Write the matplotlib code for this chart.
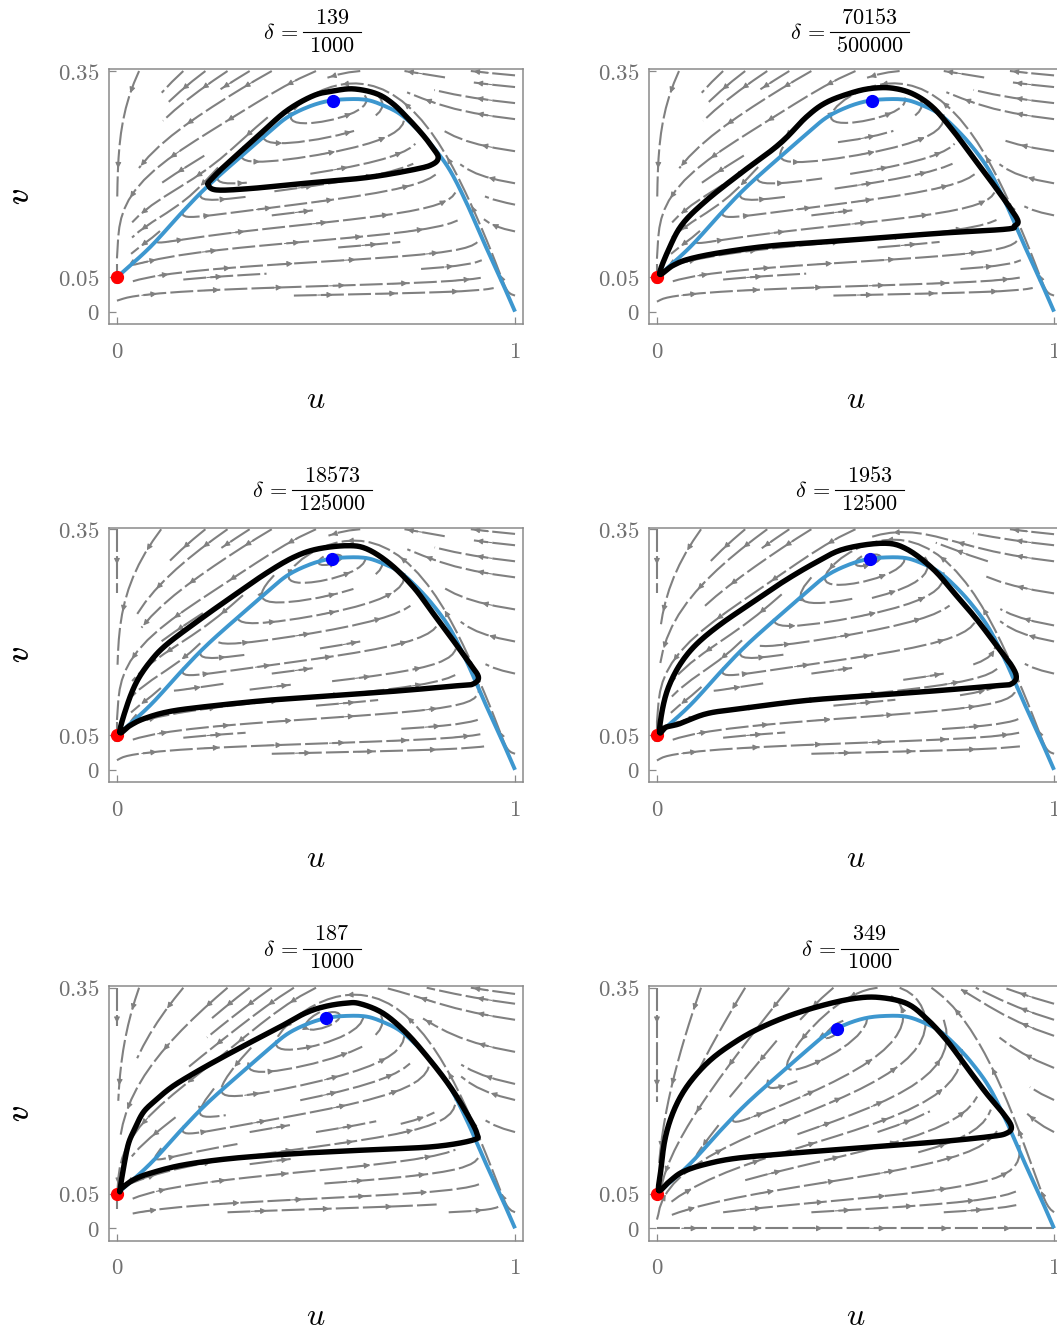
import numpy as np
import matplotlib
matplotlib.use("Agg")
import matplotlib.pyplot as plt
from matplotlib.collections import LineCollection
from matplotlib.patches import FancyArrowPatch
from matplotlib.lines import Line2D

plt.rcParams['mathtext.fontset'] = 'cm'
plt.rcParams['font.family'] = ['DejaVu Serif']

# ---------------- data ----------------
delta_num = [139, 70153, 18573, 1953, 187, 349]
delta_den = [1000, 500000, 125000, 12500, 1000, 1000]

# prey nullcline (blue curve)
nullcline_u = [0.0, 0.083, 0.158, 0.225, 0.309, 0.376, 0.426, 0.477, 0.527, 0.577,
               0.627, 0.669, 0.711, 0.753, 0.795, 0.837, 0.879, 0.920, 0.962, 1.0]
nullcline_v = [0.05, 0.0936, 0.141, 0.181, 0.2245, 0.258, 0.282, 0.297, 0.306, 0.309,
               0.308, 0.300, 0.2875, 0.266, 0.239, 0.205, 0.157, 0.103, 0.05, 0.0]

# boundary equilibrium (red) and interior equilibrium u-coordinate (blue) per panel
boundary_eq = (0.0, 0.05)
interior_eq_u = [0.542, 0.542, 0.539, 0.536, 0.525, 0.454]

# panels whose stream plot shows the stream lying on the axis v = 0
axis_stream_shown = [False, False, False, False, False, True]

# limit cycles (black)
cycle1_u = [0.229, 0.250, 0.334, 0.460, 0.627, 0.753, 0.795, 0.807, 0.795, 0.770, 0.736,
            0.694, 0.652, 0.594, 0.544, 0.493, 0.426, 0.359, 0.309, 0.267, 0.238]
cycle1_v = [0.185, 0.177, 0.179, 0.186, 0.195, 0.2075, 0.215, 0.2245, 0.237, 0.256, 0.278,
            0.302, 0.317, 0.324, 0.321, 0.314, 0.292, 0.258, 0.232, 0.210, 0.193]

cycle2_u = [0.007, 0.032, 0.065, 0.124, 0.208, 0.309, 0.376, 0.427, 0.494, 0.544, 0.594,
            0.645, 0.695, 0.746, 0.796, 0.846, 0.888, 0.909, 0.901, 0.880, 0.712, 0.460,
            0.292, 0.166, 0.082, 0.040]
cycle2_v = [0.055, 0.0936, 0.128, 0.1615, 0.200, 0.244, 0.283, 0.3045, 0.319, 0.325, 0.325,
            0.3166, 0.297, 0.263, 0.2245, 0.186, 0.152, 0.132, 0.125, 0.120, 0.114, 0.103,
            0.096, 0.0864, 0.0767, 0.067]

cycle3_u = [0.0075, 0.024, 0.049, 0.083, 0.125, 0.209, 0.292, 0.376, 0.443, 0.502, 0.577,
            0.627, 0.686, 0.745, 0.795, 0.845, 0.887, 0.908, 0.895, 0.862, 0.711, 0.5435,
            0.376, 0.2085, 0.125, 0.066, 0.033]
cycle3_v = [0.0548, 0.0914, 0.1275, 0.157, 0.1824, 0.219, 0.253, 0.2864, 0.309, 0.321, 0.326,
            0.3215, 0.2996, 0.2657, 0.227, 0.188, 0.154, 0.135, 0.125, 0.1227, 0.115, 0.108,
            0.101, 0.091, 0.084, 0.074, 0.0645]

cycle4_u = [0.0067, 0.015, 0.031, 0.06, 0.10, 0.16, 0.24, 0.32, 0.40, 0.47, 0.569,
            0.628, 0.695, 0.754, 0.804, 0.855, 0.8925, 0.905, 0.8925, 0.863, 0.712, 0.544,
            0.376, 0.208, 0.124, 0.057, 0.0235]
cycle4_v = [0.0548, 0.0914, 0.123, 0.155, 0.183, 0.2117, 0.2433, 0.2744, 0.3016, 0.321,
            0.3296, 0.3214, 0.2923, 0.2536, 0.2197, 0.181, 0.152, 0.1348, 0.125, 0.1227,
            0.1154, 0.1082, 0.1009, 0.0888, 0.0815, 0.067, 0.0621]

cycle5_u = [0.0075, 0.0159, 0.0285, 0.0452, 0.066, 0.0955, 0.137, 0.1876, 0.246, 0.322,
            0.405, 0.472, 0.5226, 0.575, 0.6106, 0.669, 0.728, 0.786, 0.837, 0.8786, 0.904,
            0.895, 0.795, 0.627, 0.460, 0.292, 0.1667, 0.083, 0.041, 0.0117]
cycle5_v = [0.0548, 0.086, 0.1224, 0.1453, 0.1686, 0.1855, 0.2053, 0.2236, 0.2428, 0.2665,
            0.2915, 0.3128, 0.3227, 0.3275, 0.3268, 0.3127, 0.2836, 0.2449, 0.2061, 0.1673,
            0.1382, 0.1285, 0.1188, 0.114, 0.1091, 0.1019, 0.0922, 0.080, 0.0704, 0.0582]

cycle6_u = [0.005, 0.0093, 0.0194, 0.0362, 0.0615, 0.095, 0.137, 0.1874, 0.246, 0.3217,
            0.4055, 0.4897, 0.5567, 0.628, 0.678, 0.729, 0.779, 0.8296, 0.8715, 0.8925,
            0.880, 0.838, 0.712, 0.544, 0.376, 0.208, 0.124, 0.0655, 0.032]
cycle6_v = [0.055, 0.0825, 0.127, 0.162, 0.1937, 0.221, 0.246, 0.2675, 0.2876, 0.3068,
            0.3225, 0.3337, 0.336, 0.3273, 0.3055, 0.274, 0.2352, 0.1964, 0.1673, 0.148,
            0.1382, 0.1334, 0.126, 0.1185, 0.111, 0.1025, 0.0935, 0.0823, 0.0685]

cycles_u = [cycle1_u, cycle2_u, cycle3_u, cycle4_u, cycle5_u, cycle6_u]
cycles_v = [cycle1_v, cycle2_v, cycle3_v, cycle4_v, cycle5_v, cycle6_v]

x_ticks = [0, 1]
x_ticklabels = ['$0$', '$1$']
y_ticks = [0, 0.05, 0.35]
y_ticklabels = ['$0$', '$0.05$', '$0.35$']

# ---------------- styling ----------------
W, Hpx = 1057, 1332
stream_color = '#808080'
frame_color = '#8a8a8a'
tick_label_color = '#707070'
blue_line = '#3d97cf'

lefts_px = [109, 649]
widths_px = [414, 413]
tops_px = [69.3, 527.5, 986.0]
height_px = 254.7

fig = plt.figure(figsize=(W / 100, Hpx / 100), dpi=100)
renderer = fig.canvas.get_renderer()

H_coef = np.polyfit(nullcline_u, nullcline_v, 7)
grid_u = np.linspace(0, 1, 161)
grid_v = np.linspace(0, 0.35, 161)
GU, GV = np.meshgrid(grid_u, grid_v)
a_half = 0.05


def vector_field(ustar, delta):
    Hc = np.polyval(H_coef, GU)
    vstar = np.interp(ustar, nullcline_u, nullcline_v)
    g = boundary_eq[1] + (vstar - boundary_eq[1]) / ustar * GU
    du = GU / (GU + a_half) * (Hc - GV)
    dv = delta * GV * (1 - GV / g)
    return du, dv


def catmull_rom(xs, ys, closed, n=12):
    P = np.column_stack([xs, ys]).astype(float)
    if closed:
        P = np.vstack([P[-1], P, P[0], P[1]])
    else:
        P = np.vstack([2 * P[0] - P[1], P, 2 * P[-1] - P[-2]])
    out = []
    t = np.linspace(0, 1, n, endpoint=False)[:, None]
    for k in range(1, len(P) - 2):
        p0, p1, p2, p3 = P[k - 1], P[k], P[k + 1], P[k + 2]
        seg = 0.5 * ((2 * p1) + (-p0 + p2) * t + (2 * p0 - 5 * p1 + 4 * p2 - p3) * t ** 2
                     + (-p0 + 3 * p1 - 3 * p2 + p3) * t ** 3)
        out.append(seg)
    out.append(P[len(P) - 2][None, :])
    out = np.vstack(out)
    return out[:, 0], out[:, 1]


def to_paths(segs):
    paths, cur = [], None
    for s in segs:
        s = np.asarray(s)
        if len(s) > 2:
            if cur is not None:
                paths.append(np.array(cur))
                cur = None
            paths.append(s)
            continue
        if cur is not None and np.allclose(cur[-1], s[0]):
            cur.append(s[1])
        else:
            if cur is not None:
                paths.append(np.array(cur))
            cur = [s[0], s[1]]
    if cur is not None:
        paths.append(np.array(cur))
    return paths


for i in range(6):
    row, col = divmod(i, 2)
    l = lefts_px[col] / W
    w = widths_px[col] / W
    b = 1 - (tops_px[row] + height_px) / Hpx
    h = height_px / Hpx
    ax = fig.add_axes([l, b, w, h])
    ax.set_xlim(-0.02, 1.02)
    ax.set_ylim(-0.018, 0.3525)
    delta = delta_num[i] / delta_den[i]

    du, dv = vector_field(interior_eq_u[i], delta)
    strm = ax.streamplot(grid_u, grid_v, du, dv, density=(0.66, 0.54), color=stream_color,
                         linewidth=1.5, arrowsize=0.8, minlength=0.08, zorder=1)
    paths = to_paths(strm.lines.get_segments())
    if not axis_stream_shown[i]:
        paths = [p for p in paths if np.max(p[:, 1]) > 0.004]
    strm.lines.remove()
    for p in list(ax.patches):
        p.remove()
    lc = LineCollection(paths, colors=stream_color, linewidths=1.5,
                        linestyles=[(0, (11, 2.0))], capstyle='butt', zorder=1)
    ax.add_collection(lc)
    # arrowheads spaced along each streamline
    for pth in paths:
        disp = ax.transData.transform(pth)
        d = np.r_[0, np.cumsum(np.hypot(*np.diff(disp, axis=0).T))]
        if d[-1] < 30:
            continue
        marks = np.arange(26, d[-1] - 6, 66)
        for m in marks:
            k = np.searchsorted(d, m)
            k = min(max(k, 1), len(pth) - 1)
            arr = FancyArrowPatch(pth[k - 1], pth[k], arrowstyle='-|>', mutation_scale=8.5,
                                  color=stream_color, lw=0.8, zorder=1)
            ax.add_patch(arr)

    bu, bv = catmull_rom(nullcline_u, nullcline_v, closed=False)
    ax.plot(bu, bv, color=blue_line, lw=2.8, zorder=2, solid_capstyle='butt')
    ax.plot([boundary_eq[0]], [boundary_eq[1]], 'o', color='#ff0000', ms=8.5, zorder=3,
            clip_on=False)
    cu, cv = catmull_rom(cycles_u[i], cycles_v[i], closed=True)
    ax.plot(cu, cv, color='black', lw=3.9, zorder=4, solid_joinstyle='round',
            solid_capstyle='round')
    vs = np.interp(interior_eq_u[i], nullcline_u, nullcline_v)
    ax.plot([interior_eq_u[i]], [vs], 'o', color='#0000ff', ms=8.5, zorder=5)

    ax.set_xticks(x_ticks)
    ax.set_xticklabels(x_ticklabels)
    ax.set_yticks(y_ticks)
    ax.set_yticklabels(y_ticklabels)
    ax.tick_params(direction='in', length=5, width=0.9, color=frame_color,
                   labelcolor=tick_label_color, labelsize=16.5)
    ax.tick_params(axis='x', pad=12)
    ax.tick_params(axis='y', pad=7)
    for sp in ax.spines.values():
        sp.set_color(frame_color)
        sp.set_linewidth(1.1)

    # title: delta = fraction with full-size numerals
    axc = lefts_px[col] + widths_px[col] / 2
    frac_cx = axc + (16 if col == 0 else 14)
    bar_y = tops_px[row] - 37.5
    tn = fig.text(frac_cx / W, 1 - (bar_y - 14) / Hpx, r'$%d$' % delta_num[i],
                  ha='center', va='center', fontsize=16)
    td = fig.text(frac_cx / W, 1 - (bar_y + 14) / Hpx, r'$%d$' % delta_den[i],
                  ha='center', va='center', fontsize=16)
    wn = tn.get_window_extent(renderer).width
    wd = td.get_window_extent(renderer).width
    half = max(wn, wd) / 2 + 6
    fig.add_artist(Line2D([(frac_cx - half) / W, (frac_cx + half) / W],
                          [1 - bar_y / Hpx, 1 - bar_y / Hpx], color='black', lw=0.8))
    fig.text((frac_cx - half - 5) / W, 1 - (bar_y + 1) / Hpx, r'$\delta\,=$', ha='right',
             va='center', fontsize=16)

    ax.text(0.5, -76 / height_px, r'$u$', transform=ax.transAxes, ha='center',
            va='center', fontsize=23)
    ax.text(-(lefts_px[col] - 20) / widths_px[col], 0.5, r'$v$',
            transform=ax.transAxes, ha='center', va='center', fontsize=23, rotation=90)

fig.savefig('out.png', dpi=100)
